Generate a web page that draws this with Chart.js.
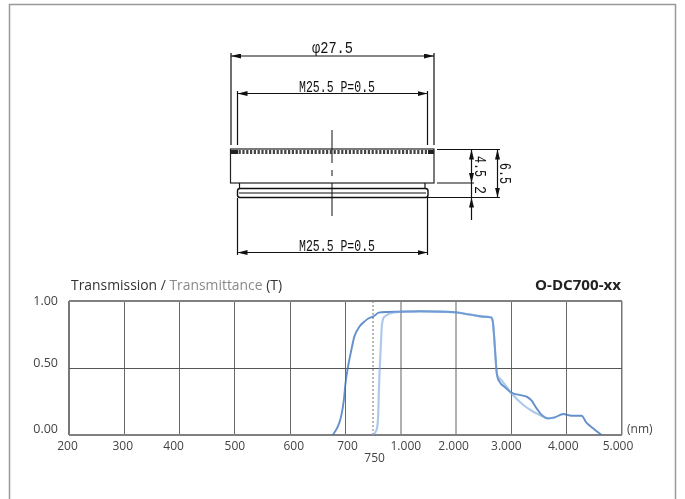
<!DOCTYPE html>
<html>
<head>
<meta charset="utf-8">
<title>O-DC700-xx</title>
<script src="https://cdn.jsdelivr.net/npm/chart.js@4/dist/chart.umd.min.js"></script>
<style>
  html, body { margin: 0; padding: 0; background: #fff; overflow: hidden; }
  #wrap { position: relative; width: 685px; height: 499px; }
  #chart, #overlay { position: absolute; left: 0; top: 0; }
  .dim { font-family: "Liberation Mono", monospace; font-size: 16px; fill: #111; }
  .cap { font-family: "Open Sans", sans-serif; font-size: 14px; fill: #333; }
</style>
</head>
<body>
<div id="wrap">
  <canvas id="chart" width="685" height="499"></canvas>

  <svg id="overlay" width="685" height="499" xmlns="http://www.w3.org/2000/svg">
    <defs>
      <marker id="arr" markerWidth="10" markerHeight="5" refX="10" refY="2.5" orient="auto-start-reverse" markerUnits="userSpaceOnUse">
        <path d="M0 0 L10 2.5 L0 5 Z" fill="#111"/>
      </marker>
    </defs>

    <!-- page frame -->
    <path d="M9.5 499 V4.5 H675.5 V499" fill="none" stroke="#999" stroke-width="1.5"/>

    <!-- filter drawing -->
    <g fill="none" stroke="#111" stroke-width="1.2">
      <path d="M231 53 V145 M434 53 V145 M237.5 91 V145 M427.5 91 V145"/>
      <path d="M231 56 H434" marker-start="url(#arr)" marker-end="url(#arr)"/>
      <path d="M237.5 93.5 H427.5" marker-start="url(#arr)" marker-end="url(#arr)"/>
      <path d="M237.5 252.5 H427.5" marker-start="url(#arr)" marker-end="url(#arr)"/>
      <path d="M237.5 198 V255 M427.5 198 V255"/>
      <rect x="230.5" y="149" width="203.5" height="34" stroke="#222"/>
      <path d="M239.5 183 V188.5 M425 183 V188.5"/>
      <rect x="237.5" y="188.5" width="190.5" height="9" rx="2.5" ry="2.5" stroke-width="1.4"/>
      <path d="M239 193 H426"/>
      <path d="M332 130 V163 M332 170 V176 M332 183 V216" stroke-width="1"/>
      <path d="M437 149.5 H500 M437 183 H474 M427 197.5 H500"/>
      <path d="M471.5 149.5 V183" marker-start="url(#arr)" marker-end="url(#arr)"/>
      <path d="M471.5 197.5 V220" marker-start="url(#arr)"/>
      <path d="M471.5 183 V197.5"/>
      <path d="M497.5 149.5 V197.5" marker-start="url(#arr)" marker-end="url(#arr)"/>
      <!-- knurled band -->
      <path d="M231 152 H434" stroke="#444" stroke-width="4" stroke-dasharray="2.2 1.6"/>
      <path d="M231 152 H238 M428 152 H434" stroke="#222" stroke-width="4"/>
    </g>
    <text class="dim" x="312" y="53" textLength="41" lengthAdjust="spacingAndGlyphs">φ27.5</text>
    <text class="dim" x="299" y="91.5" textLength="76" lengthAdjust="spacingAndGlyphs">M25.5 P=0.5</text>
    <text class="dim" x="299" y="251" textLength="76" lengthAdjust="spacingAndGlyphs">M25.5 P=0.5</text>
    <text class="dim" transform="translate(474.5 156) rotate(90)" textLength="21" lengthAdjust="spacingAndGlyphs">4.5</text>
    <text class="dim" transform="translate(474.5 186) rotate(90)" textLength="8" lengthAdjust="spacingAndGlyphs">2</text>
    <text class="dim" transform="translate(500 163) rotate(90)" textLength="21" lengthAdjust="spacingAndGlyphs">6.5</text>

    <!-- chart captions -->
    <text class="cap" x="71" y="290" textLength="211" lengthAdjust="spacingAndGlyphs">Transmission / <tspan fill="#8a8a8a">Transmittance</tspan> (T)</text>
    <text class="cap" x="535" y="290" textLength="86" lengthAdjust="spacingAndGlyphs" style="font-weight:700;font-size:14.5px;fill:#222">O-DC700-xx</text>
    <text class="cap" x="627" y="433" style="font-size:12px;fill:#444">(nm)</text>
  </svg>
</div>

<script>
// axis stops, the scale is not linear so every stop gets the same width except 750
const tickNm = [200, 300, 400, 500, 600, 700, 750, 1000, 2000, 3000, 4000, 5000];
const tickPos = [0, 1, 2, 3, 4, 5, 5.5, 6, 7, 8, 9, 10];
const tickLabels = ['200', '300', '400', '500', '600', '700', '750', '1.000', '2.000', '3.000', '4.000', '5.000'];
const yTicks = ['0.00', '0.50', '1.00'];

// dark curve
const darkNm = [677, 686, 692, 697, 700, 704, 710, 716, 725, 734, 742, 750, 801, 876, 1000, 1354, 1775, 2000, 2258, 2495, 2628, 2664, 2688, 2712, 2736, 2784, 2886, 3000, 3096, 3276, 3366, 3456, 3546, 3667, 3787, 3937, 4087, 4267, 4357, 4477, 4628];
const darkT = [0, 0.062, 0.137, 0.261, 0.386, 0.498, 0.622, 0.734, 0.808, 0.846, 0.871, 0.883, 0.913, 0.918, 0.92, 0.923, 0.92, 0.915, 0.898, 0.883, 0.878, 0.846, 0.734, 0.585, 0.46, 0.398, 0.356, 0.316, 0.303, 0.286, 0.256, 0.199, 0.149, 0.124, 0.132, 0.157, 0.144, 0.144, 0.092, 0.05, 0];

// light curve
const lightNm = [748, 780, 795, 804, 816, 831, 861, 937, 1000, 1354, 1775, 2000, 2258, 2495, 2628, 2664, 2688, 2712, 2736, 2796, 3000, 3216, 3396, 3546, 3667, 3787];
const lightT = [0, 0.037, 0.137, 0.386, 0.609, 0.833, 0.888, 0.915, 0.92, 0.923, 0.92, 0.915, 0.898, 0.883, 0.878, 0.846, 0.734, 0.585, 0.46, 0.42, 0.311, 0.224, 0.174, 0.144, 0.124, 0.132];

// small shifts of the printed labels, the original is not quite centred
const xNudge = [-1.5, -1.5, -6, 0, 3.5, 2, 1.5, 5, -2.5, -5, -3.5, -4];
const yNudge = [-6, -5, 0];

function xPos(nm) {
  for (let i = 1; i < tickNm.length; i++) {
    if (nm <= tickNm[i]) {
      const f = (nm - tickNm[i - 1]) / (tickNm[i] - tickNm[i - 1]);
      return tickPos[i - 1] + f * (tickPos[i] - tickPos[i - 1]);
    }
  }
  return tickPos[tickPos.length - 1];
}

function toPoints(nm, t) {
  return nm.map(function(v, i) {
    return { x: xPos(v), y: t[i] };
  });
}

// tick labels are drawn here so each one can carry its own shift
const tickLabelPlugin = {
  id: 'tickLabelPlugin',
  afterDraw(chart) {
    const c = chart.ctx;
    const sx = chart.scales.x;
    const sy = chart.scales.y;
    c.save();
    c.fillStyle = '#444';
    c.textBaseline = 'middle';
    c.font = '12px "Open Sans"';
    c.textAlign = 'center';
    tickPos.forEach(function(p, i) {
      const row = tickLabels[i] === '750' ? 458.5 : 447;
      c.fillText(tickLabels[i], sx.getPixelForValue(p) + xNudge[i], row);
    });
    c.font = '12.5px "Open Sans"';
    c.textAlign = 'right';
    yTicks.forEach(function(label, i) {
      c.fillText(label, 58, sy.getPixelForValue(parseFloat(label)) + yNudge[i]);
    });
    c.restore();
  }
};

new Chart(document.getElementById('chart'), {
  type: 'line',
  plugins: [tickLabelPlugin],
  data: {
    datasets: [
      {
        label: 'light',
        data: toPoints(lightNm, lightT),
        borderColor: 'rgba(120, 165, 220, 0.6)',
        borderWidth: 2.2,
        pointRadius: 0,
        cubicInterpolationMode: 'monotone'
      },
      {
        label: 'dark',
        data: toPoints(darkNm, darkT),
        borderColor: 'rgba(60, 115, 190, 0.8)',
        borderWidth: 1.9,
        pointRadius: 0,
        cubicInterpolationMode: 'monotone'
      }
    ]
  },
  options: {
    responsive: false,
    animation: false,
    layout: { padding: { top: 301, right: 63, left: 0, bottom: 0 } },
    plugins: { legend: { display: false }, tooltip: { enabled: false } },
    scales: {
      x: {
        type: 'linear',
        min: 0,
        max: 10,
        afterFit(s) { s.height = 64; },
        afterBuildTicks(s) {
          s.ticks = tickPos.map(function(p) { return { value: p }; });
        },
        ticks: { display: false },
        border: {
          display: false,
          dash(ctx) {
            return ctx.tick && ctx.tick.value === 5.5 ? [2, 2] : [];
          }
        },
        grid: {
          drawTicks: false,
          color(ctx) {
            const p = ctx.tick.value;
            if (p === 5.5) return '#bbb';
            if (p === 6 || p === 7) return '#b0b0b0';
            if (p === 0 || p === 10) return '#777';
            return '#6a6a6a';
          },
          lineWidth(ctx) {
            const p = ctx.tick.value;
            if (p === 5.5 || p === 6 || p === 7) return 2;
            if (p === 0) return 2;
            if (p === 10) return 1.5;
            return 1;
          }
        }
      },
      y: {
        min: 0,
        max: 1,
        afterFit(s) { s.width = 69; },
        ticks: { display: false, stepSize: 0.5 },
        border: { display: false },
        grid: {
          drawTicks: false,
          color(ctx) {
            return ctx.tick.value === 0.5 ? '#555' : '#808080';
          },
          lineWidth(ctx) {
            return ctx.tick.value === 0.5 ? 1 : 2;
          }
        }
      }
    }
  }
});
</script>
</body>
</html>
